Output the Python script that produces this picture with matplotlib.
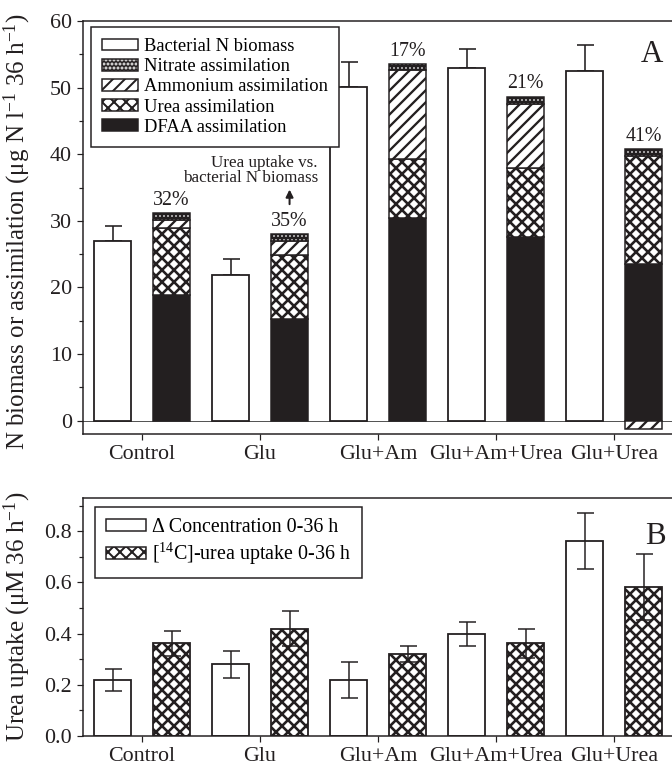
import numpy as np
import matplotlib
matplotlib.use('Agg')
import matplotlib.pyplot as plt
from matplotlib.patches import Patch

plt.rcParams['font.family'] = ['Liberation Serif', 'DejaVu Serif']
plt.rcParams['mathtext.fontset'] = 'custom'
plt.rcParams['mathtext.rm'] = 'Liberation Serif'
plt.rcParams['mathtext.it'] = 'Liberation Serif:italic'
plt.rcParams['mathtext.bf'] = 'Liberation Serif:bold'
plt.rcParams['hatch.linewidth'] = 2.0

# Données
groupes = ['Control', 'Glu', 'Glu+Am', 'Glu+Am+Urea', 'Glu+Urea']
biomasse = [27.0, 21.8, 50.1, 52.9, 52.5]
biomasse_err = [2.3, 2.4, 3.7, 2.9, 3.9]
dfaa = [18.8, 15.3, 30.4, 27.6, 23.5]
uree = [10.1, 9.6, 8.9, 10.3, 16.3]
ammonium = [1.2, 2.1, 13.35, 9.6, -1.3]
nitrate = [1.1, 1.0, 0.85, 1.15, 1.0]
pourcent = ['32%', '35%', '17%', '21%', '41%']

conc = [0.22, 0.28, 0.22, 0.397, 0.762]
conc_err = [0.043, 0.052, 0.07, 0.047, 0.11]
c14 = [0.362, 0.42, 0.321, 0.362, 0.583]
c14_err = [0.05, 0.07, 0.031, 0.057, 0.128]

noir = '#231f20'
x = np.arange(len(groupes))
w = 0.31
d = 0.25

fig = plt.figure(figsize=(672/72, 765/72), dpi=72)
ax1 = fig.add_axes([83/672, 1-434/765, 589/672, 413/765])
ax2 = fig.add_axes([83/672, 1-736/765, 589/672, 238/765])


def hatch_lw(bars, lw):
    for p in bars:
        if hasattr(p, 'set_hatch_linewidth'):
            p.set_hatch_linewidth(lw)


# Panneau A
ax1.axhline(0, color='#555555', lw=1, zorder=0.5)
ax1.errorbar(x - d, biomasse, yerr=[np.zeros(5), biomasse_err], fmt='none',
             ecolor=noir, elinewidth=1.6, capsize=8.5, capthick=1.6, zorder=1)
ax1.bar(x - d, biomasse, w, color='white', edgecolor=noir, lw=1.8, zorder=2)

pos = np.zeros(5)
neg = np.zeros(5)
for vals, style in [(dfaa, 'dfaa'), (uree, 'uree'), (ammonium, 'amm'), (nitrate, 'nit')]:
    vals = np.array(vals)
    bas = np.where(vals >= 0, pos, neg)
    if style == 'dfaa':
        b = ax1.bar(x + d, vals, w, bottom=bas, color=noir, edgecolor=noir, lw=1.5, zorder=2)
    elif style == 'uree':
        b = ax1.bar(x + d, vals, w, bottom=bas, color='white', edgecolor=noir,
                    hatch='xx', lw=1.5, zorder=2)
        hatch_lw(b, 2.6)
    elif style == 'amm':
        b = ax1.bar(x + d, vals, w, bottom=bas, color='white', edgecolor=noir,
                    hatch='//', lw=1.5, zorder=2)
        hatch_lw(b, 2.3)
    else:
        b = ax1.bar(x + d, vals, w, bottom=bas, color=noir, edgecolor='white',
                    hatch='...', lw=0, zorder=2)
        hatch_lw(b, 0.8)
        ax1.bar(x + d, vals, w, bottom=bas, fill=False, edgecolor=noir, lw=1.5, zorder=3)
    pos = pos + np.where(vals >= 0, vals, 0)
    neg = neg + np.where(vals < 0, vals, 0)

for i in range(5):
    ax1.text(x[i] + d, pos[i] + 0.5, pourcent[i], ha='center', va='bottom',
             fontsize=20, color=noir)

ax1.text(1.49, 35.2, 'Urea uptake vs.\nbacterial N biomass', ha='right', va='bottom',
         multialignment='right', fontsize=17, color=noir, linespacing=0.95)
ax1.annotate('', xy=(1.25, 35.0), xytext=(1.25, 32.2),
             arrowprops=dict(arrowstyle='-|>', color=noir, lw=2, mutation_scale=15))

ax1.text(0.985, 0.955, 'A', transform=ax1.transAxes, ha='right', va='top',
         fontsize=31, color=noir)

ax1.set_xlim(-0.5, 4.49)
ax1.set_ylim(-2, 60)
ax1.set_yticks([0, 10, 20, 30, 40, 50, 60])
ax1.set_yticks(np.arange(5, 60, 10), minor=True)
ax1.set_xticks(x)
ax1.set_xticklabels(groupes)
ax1.set_ylabel('N biomass or assimilation (μg N l$^{-1}$ 36 h$^{-1}$)', fontsize=25, color=noir)
ax1.yaxis.set_label_coords(-0.085, 0.49)

leg1 = [
    Patch(facecolor='white', edgecolor=noir, lw=1.5),
    (Patch(facecolor=noir, edgecolor='white', hatch='...', lw=0),
     Patch(fill=False, edgecolor=noir, lw=1.5)),
    Patch(facecolor='white', edgecolor=noir, hatch='//', lw=1.5),
    Patch(facecolor='white', edgecolor=noir, hatch='xx', lw=1.5),
    Patch(facecolor=noir, edgecolor=noir, lw=1.5),
]
noms1 = ['Bacterial N biomass', 'Nitrate assimilation', 'Ammonium assimilation',
         'Urea assimilation', 'DFAA assimilation']
lg = ax1.legend(leg1, noms1, loc='upper left', bbox_to_anchor=(8/589, 1-6/413),
                borderaxespad=0, fontsize=18.5, frameon=True, fancybox=False,
                edgecolor=noir, framealpha=1, handlelength=1.95, handleheight=0.6,
                handletextpad=0.3, labelspacing=0.17, borderpad=0.6)
lg.get_frame().set_linewidth(1.5)

# Panneau B
ax2.bar(x - d, conc, w, color='white', edgecolor=noir, lw=1.8, zorder=2)
b = ax2.bar(x + d, c14, w, color='white', edgecolor=noir, hatch='xx', lw=1.8, zorder=2)
hatch_lw(b, 2.6)
ax2.errorbar(x - d, conc, yerr=conc_err, fmt='none', ecolor=noir, elinewidth=1.5,
             capsize=8.5, capthick=1.5, zorder=3)
ax2.errorbar(x + d, c14, yerr=c14_err, fmt='none', ecolor=noir, elinewidth=1.5,
             capsize=8.5, capthick=1.5, zorder=3)

ax2.text(0.99, 0.9, 'B', transform=ax2.transAxes, ha='right', va='top',
         fontsize=31, color=noir)

ax2.set_xlim(-0.5, 4.49)
ax2.set_ylim(0, 0.93)
ax2.set_yticks([0.0, 0.2, 0.4, 0.6, 0.8])
ax2.set_yticklabels(['0.0', '0.2', '0.4', '0.6', '0.8'])
ax2.set_yticks(np.arange(0.1, 0.95, 0.2), minor=True)
ax2.set_xticks(x)
ax2.set_xticklabels(groupes)
ax2.set_ylabel('Urea uptake (μM 36 h$^{-1}$)', fontsize=25, color=noir)
ax2.yaxis.set_label_coords(-0.085, 0.5)

leg2 = [Patch(facecolor='white', edgecolor=noir, lw=1.5),
        Patch(facecolor='white', edgecolor=noir, hatch='xx', lw=1.5)]
noms2 = ['Δ Concentration 0-36 h', '[$^{14}$C]-urea uptake 0-36 h']
lg2 = ax2.legend(leg2, noms2, loc='upper left', bbox_to_anchor=(12/589, 1-9/238),
                 borderaxespad=0, fontsize=20, frameon=True, fancybox=False,
                 edgecolor=noir, framealpha=1, handlelength=2.0, handleheight=0.6,
                 handletextpad=0.3, labelspacing=0.2, borderpad=0.55)
lg2.get_frame().set_linewidth(1.5)

for ax in (ax1, ax2):
    ax.spines['right'].set_visible(False)
    for s in ('left', 'bottom', 'top'):
        ax.spines[s].set_linewidth(1.5)
        ax.spines[s].set_color(noir)
    ax.tick_params(axis='both', which='major', direction='out', length=6, width=1.2,
                   labelsize=22, colors=noir, pad=5)
    ax.tick_params(axis='y', which='minor', direction='out', length=4, width=1.2, colors=noir)
    ax.tick_params(axis='x', which='minor', bottom=False)

plt.savefig('out.png', dpi=72)
